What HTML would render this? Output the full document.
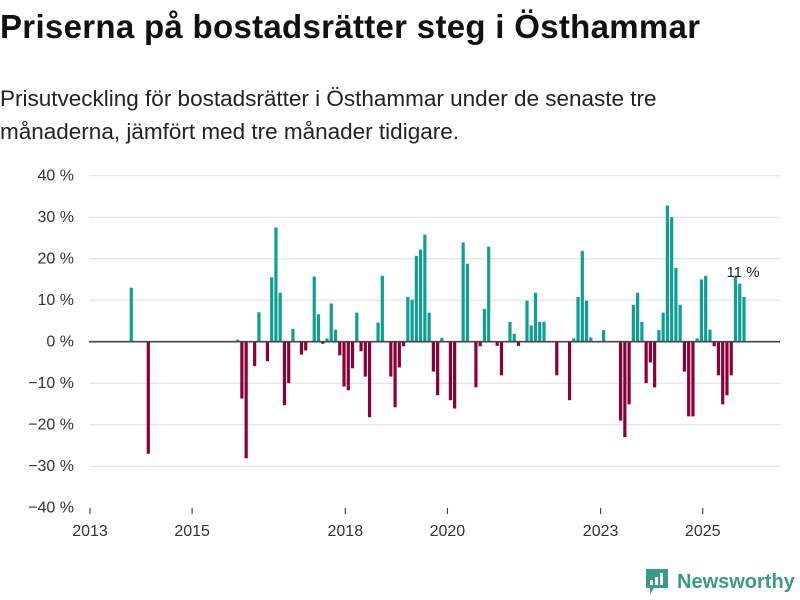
<!DOCTYPE html>
<html><head><meta charset="utf-8"><style>
body{margin:0;width:800px;height:600px;background:#fff;overflow:hidden;font-family:"Liberation Sans","DejaVu Sans",sans-serif;color:#111}
h1{position:absolute;left:0;top:8px;margin:0;font-size:33px;font-weight:bold;letter-spacing:0.3px;white-space:nowrap}
p{position:absolute;left:0;top:82px;margin:0;font-size:22.5px;line-height:33px;width:705px;color:#222}
</style></head><body>
<h1>Priserna på bostadsrätter steg i Östhammar</h1>
<p>Prisutveckling för bostadsrätter i Östhammar under de senaste tre månaderna, jämfört med tre månader tidigare.</p>
<svg id="chart" width="800" height="600" style="position:absolute;left:0;top:0"></svg>
<div style="position:absolute;left:645px;top:568px;display:flex;align-items:center;color:#3a9a8c;font-size:20px;font-weight:bold">
<svg width="24" height="28" viewBox="0 0 24 28"><path d="M1 1h22v19H9l-4 6v-6H1z" fill="#3a9a8c"/><rect x="5" y="12" width="3" height="5" fill="#fff"/><rect x="10" y="9" width="3" height="8" fill="#fff"/><rect x="15" y="5" width="3" height="12" fill="#fff"/></svg>
<span style="margin-left:8px">Newsworthy</span></div>
<script>
const months=[9,13,34,35,36,38,39,41,42,43,44,45,46,47,49,50,52,53,54,55,56,57,58,59,60,61,62,63,64,65,67,68,70,71,72,73,74,75,76,77,78,79,80,81,82,84,85,87,88,90,91,92,93,95,96,98,99,100,102,103,104,105,106,109,112,113,114,115,116,117,120,124,125,126,127,128,129,130,131,132,133,134,135,136,137,138,139,140,141,142,143,144,145,146,147,148,149,150,151,152,153];
const values=[13,-27,0.5,-13.7,-28.1,-5.9,7.1,-4.7,15.5,27.5,11.8,-15.3,-10,3.1,-3.1,-2.1,15.7,6.6,-0.5,0.8,9.2,2.9,-3.3,-10.8,-11.7,-6.4,7,-2.3,-8.4,-18.2,4.6,15.9,-8.4,-15.8,-6.2,-1.1,10.8,10.1,20.7,22.2,25.8,7,-7.2,-12.9,0.9,-14.1,-16.1,23.9,18.8,-11,-1.1,7.9,22.9,-1,-8.1,4.8,1.9,-1,9.9,3.9,11.8,4.8,4.8,-8.1,-14.1,0.8,10.8,21.9,9.9,1,2.8,-19,-23,-15.1,8.9,11.8,4.8,-10,-5,-11,2.8,7,32.8,30,17.8,8.9,-7.2,-18,-18,0.8,15,15.9,2.9,-1.1,-8.1,-15.1,-12.9,-8.1,15.7,14,10.8];
const yTicks=[40,30,20,10,0,-10,-20,-30,-40];
const xTickYears=[2013,2015,2018,2020,2023,2025];
const lastLabel="11 %";
const NS="http://www.w3.org/2000/svg",svg=document.getElementById('chart');
const x0=90,pxMonth=4.255;
const xm=m=>x0+(m+0.7)*pxMonth;
const xy=yr=>x0+(yr-2013)*12*pxMonth;
const y=v=>341.7-v*4.15;
function mk(t,a){const e=document.createElementNS(NS,t);for(const k in a)e.setAttribute(k,a[k]);svg.appendChild(e);return e;}
yTicks.forEach(v=>{
 if(v!==0&&v!==-40){const g=mk('line',{x1:89,x2:780,y1:y(v),y2:y(v),stroke:'#ddd','stroke-width':1});
 
 }
 const t=mk('text',{x:74,y:y(v)+5,'text-anchor':'end','font-size':16,fill:'#333','font-family':'Liberation Sans, sans-serif'});
 t.textContent=(v<0?'\u2212'+(-v):v)+' %';
 
 
});
months.forEach((m,i)=>{const v=values[i];
 const r=mk('rect',{x:xm(m)-1.6,y:Math.min(y(v),y(0)),width:3.2,height:Math.abs(y(v)-y(0)),fill:v>=0?'#0f9f94':'#8c0039'});
 
 
});
const z=mk('line',{x1:89,x2:780,y1:y(0),y2:y(0),stroke:'#444','stroke-width':1.6});


xTickYears.forEach(yr=>{
 const tk=mk('line',{x1:xy(yr),x2:xy(yr),y1:508,y2:514,stroke:'#444','stroke-width':1.2});
 
 
 const t=mk('text',{x:xy(yr),y:536,'text-anchor':'middle','font-size':16,fill:'#333','font-family':'Liberation Sans, sans-serif'});
 t.textContent=yr;
 
 
});
const li=months.length-1;
const lb=mk('text',{x:xm(months[li])-1,y:y(values[li])-20,'text-anchor':'middle','font-size':15,fill:'#222','font-family':'Liberation Sans, sans-serif'});
lb.textContent=lastLabel;


</script>
</body></html>
